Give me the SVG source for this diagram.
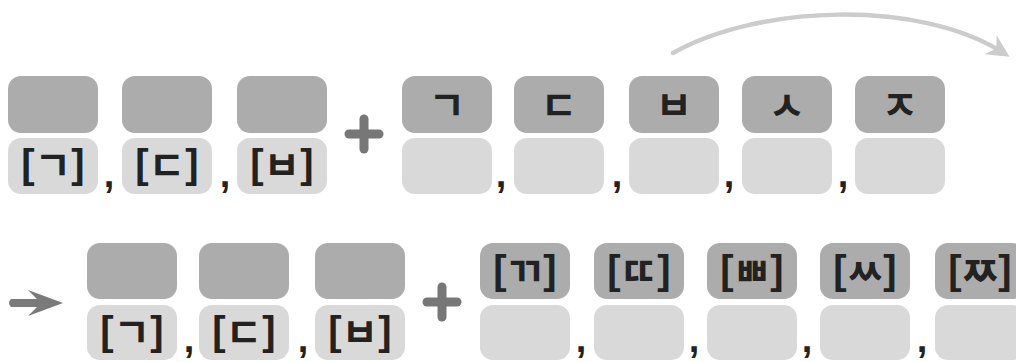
<svg xmlns="http://www.w3.org/2000/svg" width="1016" height="362" viewBox="0 0 1016 362">
<style>
.dk{fill:#acacac}
.lt{fill:#d9d9d9}
.br{font-family:"Liberation Sans",Arial,sans-serif;font-size:40px;font-weight:700;fill:#222;text-anchor:middle}
.jm{font-family:"Noto Sans CJK KR","Noto Sans CJK SC",sans-serif;font-size:40px;font-weight:700;fill:#222;text-anchor:middle}
.cm{font-family:"Liberation Sans",Arial,sans-serif;font-size:38px;font-weight:700;fill:#222;text-anchor:middle}
.plus{stroke:#777;stroke-width:9;stroke-linecap:round}
</style>
<defs>
<marker id="ah" viewBox="0 0 10 10" refX="6" refY="5" markerWidth="5" markerHeight="5" orient="auto" markerUnits="strokeWidth">
<path d="M0,0 L10,5 L0,10 L3,5 Z" fill="#cccccc"/>
</marker>
</defs>
<rect width="1016" height="362" fill="#ffffff"/>

<g id="connectors">
<path d="M673,53 C760,4 920,0 1002,52" fill="none" stroke="#cccccc" stroke-width="4.5" stroke-linecap="round" marker-end="url(#ah)"/>
<path d="M11,299 L37,299 L28,290 L63,303 L28,316 L37,307 L11,307 Q7,303 11,299 Z" fill="#7a7a7a"/>
</g>

<g id="row1-left">
<g id="n-t1"><rect class="dk" x="8" y="76" width="90" height="57" rx="13"/><rect class="lt" x="8" y="138" width="90" height="56" rx="13"/>
<text><tspan class="br" x="28" y="178">[</tspan><tspan class="jm" x="53" y="180">ㄱ</tspan><tspan class="br" x="78" y="178">]</tspan></text></g>
<g id="n-t2"><rect class="dk" x="122" y="76" width="90" height="57" rx="13"/><rect class="lt" x="122" y="138" width="90" height="56" rx="13"/>
<text><tspan class="br" x="142" y="178">[</tspan><tspan class="jm" x="167" y="180">ㄷ</tspan><tspan class="br" x="192" y="178">]</tspan></text></g>
<g id="n-t3"><rect class="dk" x="237" y="76" width="90" height="57" rx="13"/><rect class="lt" x="237" y="138" width="90" height="56" rx="13"/>
<text><tspan class="br" x="257" y="178">[</tspan><tspan class="jm" x="282" y="180">ㅂ</tspan><tspan class="br" x="307" y="178">]</tspan></text></g>
<text class="cm" x="109" y="187">,</text>
<text class="cm" x="225" y="187">,</text>
</g>

<g id="plus1"><line class="plus" x1="349" y1="134" x2="379" y2="134"/><line class="plus" x1="364" y1="119" x2="364" y2="149"/></g>

<g id="row1-right">
<g id="n-r1"><rect class="dk" x="402" y="76" width="90" height="57" rx="13"/><rect class="lt" x="402" y="138" width="90" height="56" rx="13"/><text class="jm" x="447" y="120">ㄱ</text></g>
<g id="n-r2"><rect class="dk" x="514" y="76" width="90" height="57" rx="13"/><rect class="lt" x="514" y="138" width="90" height="56" rx="13"/><text class="jm" x="559" y="120">ㄷ</text></g>
<g id="n-r3"><rect class="dk" x="629" y="76" width="90" height="57" rx="13"/><rect class="lt" x="629" y="138" width="90" height="56" rx="13"/><text class="jm" x="674" y="120">ㅂ</text></g>
<g id="n-r4"><rect class="dk" x="742" y="76" width="90" height="57" rx="13"/><rect class="lt" x="742" y="138" width="90" height="56" rx="13"/><text class="jm" x="787" y="120">ㅅ</text></g>
<g id="n-r5"><rect class="dk" x="855" y="76" width="90" height="57" rx="13"/><rect class="lt" x="855" y="138" width="90" height="56" rx="13"/><text class="jm" x="900" y="120">ㅈ</text></g>
<text class="cm" x="501" y="187">,</text>
<text class="cm" x="617" y="187">,</text>
<text class="cm" x="729" y="187">,</text>
<text class="cm" x="843" y="187">,</text>
</g>

<g id="row2-left">
<g id="n-b1"><rect class="dk" x="87" y="243" width="90" height="56" rx="13"/><rect class="lt" x="87" y="305" width="90" height="55" rx="13"/>
<text><tspan class="br" x="107" y="345">[</tspan><tspan class="jm" x="132" y="347">ㄱ</tspan><tspan class="br" x="157" y="345">]</tspan></text></g>
<g id="n-b2"><rect class="dk" x="199" y="243" width="90" height="56" rx="13"/><rect class="lt" x="199" y="305" width="90" height="55" rx="13"/>
<text><tspan class="br" x="219" y="345">[</tspan><tspan class="jm" x="244" y="347">ㄷ</tspan><tspan class="br" x="269" y="345">]</tspan></text></g>
<g id="n-b3"><rect class="dk" x="315" y="243" width="90" height="56" rx="13"/><rect class="lt" x="315" y="305" width="90" height="55" rx="13"/>
<text><tspan class="br" x="335" y="345">[</tspan><tspan class="jm" x="360" y="347">ㅂ</tspan><tspan class="br" x="385" y="345">]</tspan></text></g>
<text class="cm" x="189" y="352">,</text>
<text class="cm" x="303" y="352">,</text>
</g>

<g id="plus2"><line class="plus" x1="427" y1="302" x2="457" y2="302"/><line class="plus" x1="442" y1="287" x2="442" y2="317"/></g>

<g id="row2-right">
<g id="n-s1"><rect class="dk" x="480" y="243" width="90" height="56" rx="13"/><rect class="lt" x="480" y="305" width="90" height="55" rx="13"/>
<text><tspan class="br" x="500" y="284">[</tspan><tspan class="jm" x="525" y="286">ㄲ</tspan><tspan class="br" x="550" y="284">]</tspan></text></g>
<g id="n-s2"><rect class="dk" x="594" y="243" width="90" height="56" rx="13"/><rect class="lt" x="594" y="305" width="90" height="55" rx="13"/>
<text><tspan class="br" x="614" y="284">[</tspan><tspan class="jm" x="639" y="286">ㄸ</tspan><tspan class="br" x="664" y="284">]</tspan></text></g>
<g id="n-s3"><rect class="dk" x="707" y="243" width="90" height="56" rx="13"/><rect class="lt" x="707" y="305" width="90" height="55" rx="13"/>
<text><tspan class="br" x="727" y="284">[</tspan><tspan class="jm" x="752" y="286">ㅃ</tspan><tspan class="br" x="777" y="284">]</tspan></text></g>
<g id="n-s4"><rect class="dk" x="820" y="243" width="90" height="56" rx="13"/><rect class="lt" x="820" y="305" width="90" height="55" rx="13"/>
<text><tspan class="br" x="840" y="284">[</tspan><tspan class="jm" x="865" y="286">ㅆ</tspan><tspan class="br" x="890" y="284">]</tspan></text></g>
<g id="n-s5"><rect class="dk" x="935" y="243" width="90" height="56" rx="13"/><rect class="lt" x="935" y="305" width="90" height="55" rx="13"/>
<text><tspan class="br" x="955" y="284">[</tspan><tspan class="jm" x="980" y="286">ㅉ</tspan><tspan class="br" x="1005" y="284">]</tspan></text></g>
<text class="cm" x="581" y="352">,</text>
<text class="cm" x="694" y="352">,</text>
<text class="cm" x="807" y="352">,</text>
<text class="cm" x="922" y="352">,</text>
</g>
</svg>
